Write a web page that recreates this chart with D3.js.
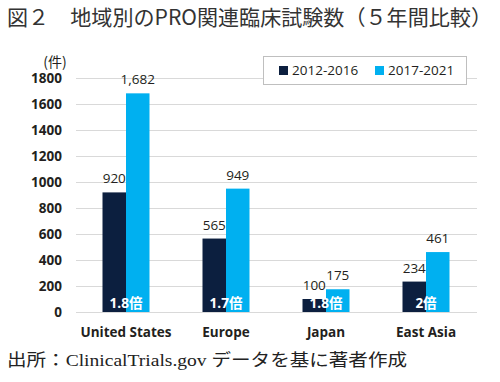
<!DOCTYPE html>
<html>
<head>
<meta charset="utf-8">
<script src="https://cdn.jsdelivr.net/npm/d3@7"></script>
<style>
  body { margin: 0; background: #fff; }
  svg { display: block; }
</style>
</head>
<body>
<svg id="chart" width="500" height="382"></svg>
<script>
// data
var regions = ['United States', 'Europe', 'Japan', 'East Asia'];
var series = ['2012-2016', '2017-2021'];
var early = [920, 565, 100, 234];
var late = [1682, 949, 175, 461];
var ratios = ['1.8倍', '1.7倍', '1.8倍', '2倍'];
var yTicks = [0, 200, 400, 600, 800, 1000, 1200, 1400, 1600, 1800];

var colors = ['#0c1f3f', '#00b0f0'],
    ink = '#231f20',
    gridColor = '#d9d9d9',
    sans = "'Open Sans', 'Noto Sans CJK JP', sans-serif";

var svg = d3.select('#chart');

var margin = {left: 76, right: 24, top: 78, bottom: 70},
    width = 500 - margin.left - margin.right,
    height = 382 - margin.top - margin.bottom;

var x = d3.scaleBand()
    .domain(regions)
    .range([margin.left, margin.left + width])
    .paddingInner(0.53)
    .paddingOuter(0.265);

var xs = d3.scaleBand()
    .domain(series)
    .range([0, x.bandwidth()]);

var y = d3.scaleLinear()
    .domain([0, 1800])
    .range([margin.top + height, margin.top]);

// title
svg.append('text')
    .attr('x', 7)
    .attr('y', 25)
    .attr('font-family', "'Noto Sans CJK JP', sans-serif")
    .attr('font-size', 21)
    .attr('textLength', 485)
    .attr('lengthAdjust', 'spacingAndGlyphs')
    .attr('fill', '#333')
    .text('図２　地域別のPRO関連臨床試験数（５年間比較）');

// gridlines
svg.append('g')
    .selectAll('line')
    .data(yTicks)
    .enter().append('line')
    .attr('x1', margin.left)
    .attr('x2', margin.left + width + 1)
    .attr('y1', function(d) { return Math.round(y(d)) + 0.5; })
    .attr('y2', function(d) { return Math.round(y(d)) + 0.5; })
    .attr('stroke', gridColor)
    .attr('stroke-width', 1);

// y axis labels
var yAxis = d3.axisLeft(y).tickValues(yTicks).tickFormat(d3.format('d')).tickSize(0).tickPadding(14);
var yg = svg.append('g')
    .attr('transform', 'translate(' + margin.left + ',0)')
    .call(yAxis);
yg.select('.domain').remove();
yg.selectAll('text')
    .attr('font-family', sans)
    .attr('font-size', 13.5)
    .attr('font-weight', 'bold')
    .attr('fill', ink);

svg.append('text')
    .attr('x', 55)
    .attr('y', 67)
    .attr('text-anchor', 'middle')
    .attr('font-family', "'Noto Sans CJK JP', sans-serif")
    .attr('font-size', 14)
    .attr('fill', ink)
    .text('(件)');

// bars
var rows = regions.map(function(r, i) {
    return {region: r, values: [early[i], late[i]], ratio: ratios[i]};
});

var groups = svg.append('g')
    .selectAll('g')
    .data(rows)
    .enter().append('g')
    .attr('transform', function(d) { return 'translate(' + x(d.region) + ',0)'; });

groups.selectAll('rect')
    .data(function(d) { return d.values.map(function(v, j) { return {key: series[j], value: v}; }); })
    .enter().append('rect')
    .attr('x', function(d) { return xs(d.key); })
    .attr('y', function(d) { return y(d.value); })
    .attr('width', xs.bandwidth())
    .attr('height', function(d) { return y(0) - y(d.value); })
    .attr('fill', function(d, j) { return colors[j]; });

// value labels
groups.selectAll('text.val')
    .data(function(d) { return d.values.map(function(v, j) { return {key: series[j], value: v}; }); })
    .enter().append('text')
    .attr('class', 'val')
    .attr('x', function(d) { return xs(d.key) + xs.bandwidth() / 2; })
    .attr('y', function(d) { return y(d.value) - 9; })
    .attr('text-anchor', 'middle')
    .attr('font-family', sans)
    .attr('font-size', 13.5)
    .attr('fill', ink)
    .text(function(d) { return d3.format(',')(d.value); });

// ratio labels
groups.append('text')
    .attr('x', x.bandwidth() / 2)
    .attr('y', y(0) - 4)
    .attr('text-anchor', 'middle')
    .attr('font-family', sans)
    .attr('font-size', 13.5)
    .attr('font-weight', 'bold')
    .attr('fill', '#fff')
    .text(function(d) { return d.ratio; });

// x axis labels
svg.append('g')
    .selectAll('text')
    .data(regions)
    .enter().append('text')
    .attr('x', function(d) { return x(d) + x.bandwidth() / 2; })
    .attr('y', y(0) + 25)
    .attr('text-anchor', 'middle')
    .attr('font-family', sans)
    .attr('font-size', 13.5)
    .attr('font-weight', 'bold')
    .attr('fill', ink)
    .text(function(d) { return d; });

// legend
var legend = svg.append('g');
legend.append('rect')
    .attr('x', 263.5)
    .attr('y', 56.5)
    .attr('width', 203)
    .attr('height', 28)
    .attr('fill', '#fff')
    .attr('stroke', '#bfbfbf');

var items = legend.selectAll('g')
    .data(series)
    .enter().append('g')
    .attr('transform', function(d, i) { return 'translate(' + (279 + i * 96) + ',0)'; });

items.append('rect')
    .attr('x', 0)
    .attr('y', 66)
    .attr('width', 9)
    .attr('height', 9)
    .attr('fill', function(d, i) { return colors[i]; });

items.append('text')
    .attr('x', 13)
    .attr('y', 75)
    .attr('font-family', sans)
    .attr('font-size', 13.5)
    .attr('fill', ink)
    .text(function(d) { return d; });

// source note
svg.append('text')
    .attr('x', 7)
    .attr('y', 366)
    .attr('font-family', "'Liberation Serif', 'Noto Sans CJK JP', serif")
    .attr('font-size', 17.5)
    .attr('textLength', 400)
    .attr('lengthAdjust', 'spacingAndGlyphs')
    .attr('fill', '#222')
    .text('出所：ClinicalTrials.gov データを基に著者作成');
</script>
</body>
</html>
